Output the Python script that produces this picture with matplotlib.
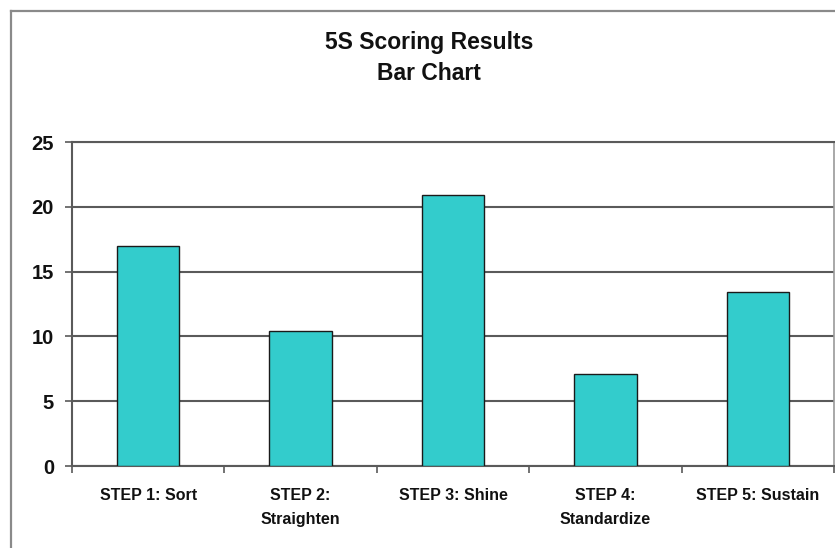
import matplotlib
matplotlib.use("Agg")
import matplotlib.pyplot as plt
from matplotlib.lines import Line2D
import numpy as np

plt.rcParams['font.family'] = ['Liberation Sans', 'DejaVu Sans']

categories = ["STEP 1: Sort", "STEP 2:\nStraighten", "STEP 3: Shine",
              "STEP 4:\nStandardize", "STEP 5: Sustain"]
scores = [17.0, 10.4, 20.9, 7.1, 13.4]
y_ticks = [0, 5, 10, 15, 20, 25]

W, H = 835, 548
fig = plt.figure(figsize=(W / 100, H / 100), dpi=100)
fig.patch.set_facecolor("white")

# chart area border (left and top edges)
frame_col = "#8a8a8a"
fig.add_artist(Line2D([11 / W, 11 / W], [0, 1 - 11 / H], color=frame_col, lw=1.6,
                      transform=fig.transFigure))
fig.add_artist(Line2D([11 / W, 1], [1 - 11 / H, 1 - 11 / H], color=frame_col, lw=1.6,
                      transform=fig.transFigure))

left, right = 72 / W, 834 / W
bottom, top = 1 - 466 / H, 1 - 142 / H
ax = fig.add_axes([left, bottom, right - left, top - bottom])

x = np.arange(len(categories))
ax.bar(x, scores, width=0.41, color="#33CCCC", edgecolor="#1a1a1a", linewidth=1.0,
       zorder=3)

ax.set_xlim(-0.5, len(categories) - 0.5)
ax.set_ylim(0, 25)

grid_col = "#5a5a5a"
ax.set_yticks(y_ticks)
ax.set_yticklabels([str(v) for v in y_ticks], fontsize=14.5, fontweight="bold")
ax.yaxis.grid(True, color=grid_col, linewidth=1.5, zorder=0)
ax.set_axisbelow(True)
ax.tick_params(axis="y", direction="out", length=5, width=1.2, color=grid_col,
               pad=8, labelcolor="#111111")

ax.set_xticks(x)
ax.set_xticklabels(categories, fontsize=11.5, fontweight="bold", linespacing=1.75,
                   color="#111111", va="top")
ax.set_xticks(np.arange(len(categories) + 1) - 0.5, minor=True)
ax.tick_params(axis="x", which="major", length=0, pad=16)
ax.tick_params(axis="x", which="minor", direction="out", length=5, width=1.2,
               color=grid_col)

for side in ("left", "bottom"):
    ax.spines[side].set_color(grid_col)
    ax.spines[side].set_linewidth(1.5)
ax.spines["top"].set_color(grid_col)
ax.spines["top"].set_linewidth(1.5)
ax.spines["right"].set_color("#9a9a9a")
ax.spines["right"].set_linewidth(1.2)

fig.text(429 / W, 1 - 43 / H, "5S Scoring Results", ha="center", va="center",
         fontsize=16.5, fontweight="bold", color="#111111")
fig.text(429 / W, 1 - 73 / H, "Bar Chart", ha="center", va="center",
         fontsize=16.5, fontweight="bold", color="#111111")

fig.savefig("out.png", dpi=100, facecolor="white")
